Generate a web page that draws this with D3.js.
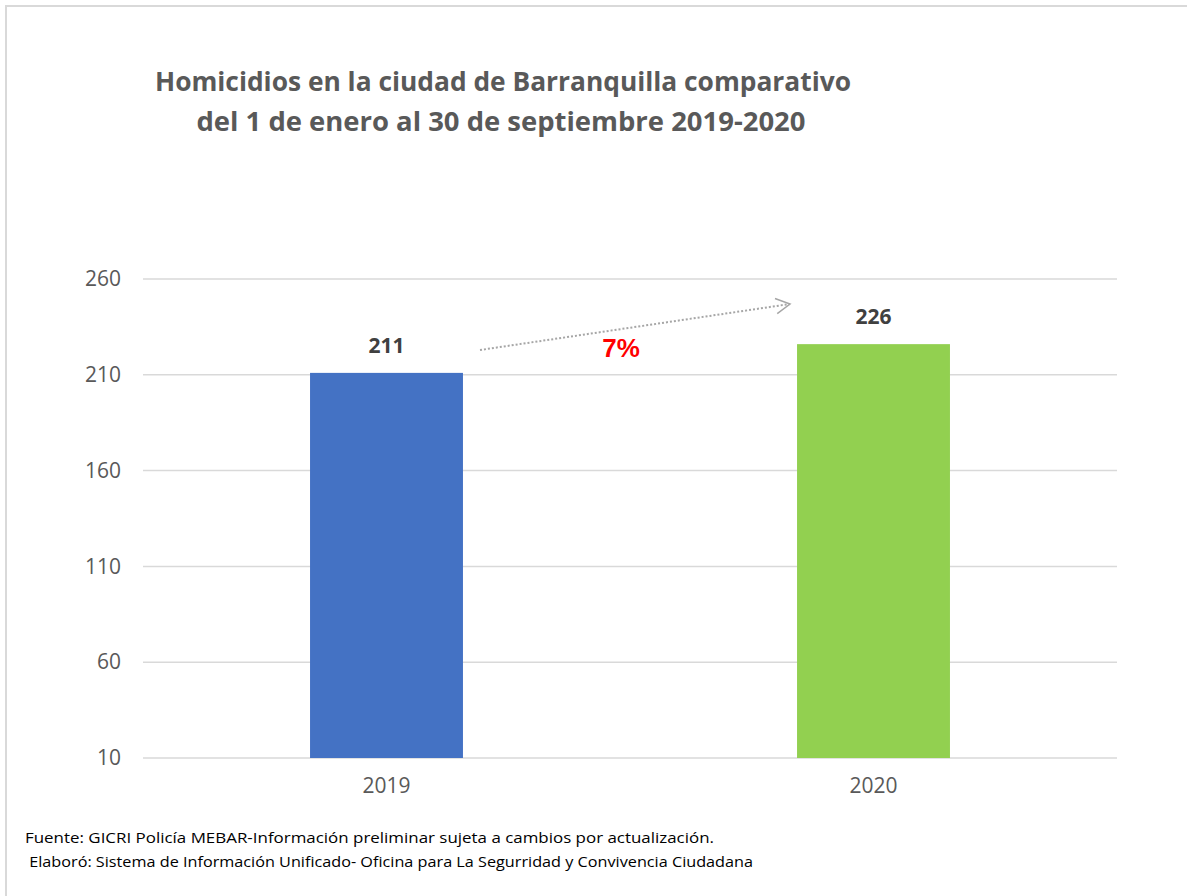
<!DOCTYPE html>
<html><head><meta charset="utf-8">
<script src="https://cdn.jsdelivr.net/npm/d3@7"></script>
<style>body{margin:0;background:#fff}svg{display:block}</style>
</head><body>
<script>
const categories = ["2019", "2020"];
const values = [211, 226];
const barColors = ["#4472c4", "#92d050"];
const yTicks = [10, 60, 110, 160, 210, 260];
const titleLines = ["Homicidios en la ciudad de Barranquilla comparativo", "del 1 de enero al 30 de septiembre 2019-2020"];
const changeLabel = "7%";
const footerLines = ["Fuente: GICRI Policía MEBAR-Información preliminar sujeta a cambios por actualización.", " Elaboró: Sistema de Información Unificado- Oficina para La Segurridad y Convivencia Ciudadana"];

const W = 1187, H = 896;
const svg = d3.select("body").append("svg").attr("width", W).attr("height", H);
const font = "Open Sans, Liberation Sans, sans-serif";

// frame
svg.append("rect").attr("x", 6).attr("y", 6).attr("width", W + 20).attr("height", H + 20)
  .attr("fill", "none").attr("stroke", "#d9d9d9").attr("stroke-width", 2);

const x = d3.scaleBand().domain(categories).range([143, 1117]).paddingInner(0.686).paddingOuter(0.343);
const y = d3.scaleLinear().domain([10, 260]).range([758, 279]);

function fitText(sel, width) {
  sel.attr("textLength", width).attr("lengthAdjust", "spacingAndGlyphs");
}

// title
const tl = [[503, 91, 696], [501, 131, 609]];
titleLines.forEach((t, i) => {
  svg.append("text").attr("x", tl[i][0]).attr("y", tl[i][1]).attr("text-anchor", "middle")
    .attr("font-family", font).attr("font-weight", "bold").attr("font-size", 27.5).attr("fill", "#595959")
    .text(t).call(fitText, tl[i][2]);
});

// grid
const yAxis = d3.axisLeft(y).tickValues(yTicks).tickSize(0).tickPadding(22);
const gy = svg.append("g").attr("transform", "translate(143,0)").call(yAxis);
gy.select(".domain").remove();
gy.selectAll("text").attr("font-family", font).attr("font-size", 21).attr("fill", "#595959");
svg.append("g").selectAll("line").data(yTicks).join("line")
  .attr("x1", 143).attr("x2", 1117).attr("y1", d => y(d)).attr("y2", d => y(d))
  .attr("stroke", "#d9d9d9").attr("stroke-width", 1.5);

// bars
svg.append("g").selectAll("rect").data(values).join("rect")
  .attr("x", (d, i) => x(categories[i])).attr("width", x.bandwidth())
  .attr("y", d => y(d)).attr("height", d => y(10) - y(d))
  .attr("fill", (d, i) => barColors[i]);

// value labels
svg.append("g").selectAll("text").data(values).join("text")
  .attr("x", (d, i) => x(categories[i]) + x.bandwidth() / 2).attr("y", d => y(d) - 20)
  .attr("text-anchor", "middle").attr("font-family", font).attr("font-weight", "bold")
  .attr("font-size", 21).attr("fill", "#404040").text(d => d);

// x axis
const xAxis = d3.axisBottom(x).tickSize(0).tickPadding(20);
const gx = svg.append("g").attr("transform", `translate(0,${y(10)})`).call(xAxis);
gx.select(".domain").remove();
gx.selectAll("text").attr("font-family", font).attr("font-size", 21).attr("fill", "#595959");

// arrow
const ax1 = 480, ay1 = 350, ax2 = 790, ay2 = 304;
svg.append("line").attr("x1", ax1).attr("y1", ay1).attr("x2", ax2).attr("y2", ay2)
  .attr("stroke", "#a6a6a6").attr("stroke-width", 2).attr("stroke-dasharray", "2,2");
const ang = Math.atan2(ay2 - ay1, ax2 - ax1);
const hl = 16, ha = 0.5;
svg.append("path").attr("d", `M${ax2 - hl * Math.cos(ang - ha)},${ay2 - hl * Math.sin(ang - ha)} L${ax2},${ay2} L${ax2 - hl * Math.cos(ang + ha)},${ay2 - hl * Math.sin(ang + ha)}`)
  .attr("fill", "none").attr("stroke", "#a6a6a6").attr("stroke-width", 1.5);
svg.append("text").attr("x", 621).attr("y", 357).attr("text-anchor", "middle")
  .attr("font-family", "Liberation Sans, Arial, sans-serif").attr("font-weight", "bold")
  .attr("font-size", 26).attr("fill", "#ff0000").text(changeLabel);

// footer
const fl = [[25, 843, 689], [25, 867, 728]];
footerLines.forEach((t, i) => {
  svg.append("text").attr("x", fl[i][0]).attr("y", fl[i][1]).attr("xml:space", "preserve")
    .attr("font-family", font).attr("font-size", 15).attr("fill", "#000").text(t)
    .call(fitText, fl[i][2]);
});
</script>
</body></html>
